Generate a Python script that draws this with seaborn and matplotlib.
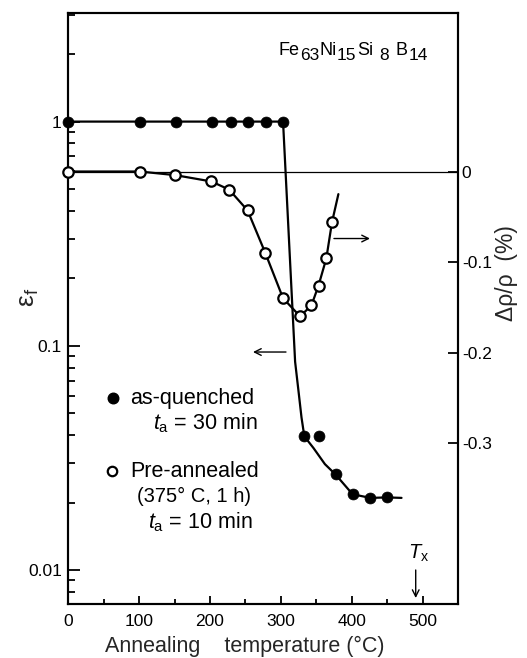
import numpy as np
import matplotlib
matplotlib.use("Agg")
import matplotlib.pyplot as plt
import seaborn as sns
from matplotlib.ticker import FixedLocator, FixedFormatter, LogLocator, NullFormatter, MultipleLocator

# ---------------- data ----------------
# as-quenched, fracture strain (left, log axis)
T_quenched = [0, 101, 152, 203, 229, 254, 279, 303, 332, 354, 377, 401, 426, 450]
eps_quenched = [1, 1, 1, 1, 1, 1, 1, 1, 0.0395, 0.0395, 0.0267, 0.0218, 0.0210, 0.0211]
# hand-drawn guide curve through the as-quenched data
T_quenched_curve = [0, 303, 320, 325, 329, 333, 346, 362, 377, 401, 426, 450, 470]
eps_quenched_curve = [1, 1, 0.085, 0.062, 0.048, 0.0395, 0.0350, 0.0297, 0.0267, 0.0218, 0.0210, 0.0211, 0.0210]

# pre-annealed, resistivity change (right axis, %)
T_pre = [0, 101, 151, 202, 227, 253, 278, 303, 327, 343, 353, 364, 372]
drho_pre = [0, 0, -0.004, -0.011, -0.020, -0.043, -0.090, -0.140, -0.160, -0.148, -0.126, -0.096, -0.056]
T_pre_curve = [0, 101, 151, 202, 227, 253, 278, 303, 327, 343, 353, 364, 372, 381]
drho_pre_curve = [0, 0, -0.004, -0.011, -0.020, -0.043, -0.090, -0.140, -0.160, -0.148, -0.126, -0.096, -0.056, -0.025]

T_x = 490  # crystallisation temperature marker

x_ticks = [0, 100, 200, 300, 400, 500]
x_tick_labels = ["0", "100", "200", "300", "400", "500"]
left_ticks = [0.01, 0.1, 1]
left_tick_labels = ["0.01", "0.1", "1"]
right_ticks = [0, -0.1, -0.2, -0.3]
right_tick_labels = ["0", "-0.1", "-0.2", "-0.3"]

title_parts = ["Fe", "63", "Ni", "15", "Si", "8", "B", "14"]
title_is_sub = [False, True, False, True, False, True, False, True]

# ---------------- style ----------------
sns.set_theme(style="ticks")
plt.rcParams["font.family"] = ["Liberation Sans", "DejaVu Sans"]
plt.rcParams["mathtext.fontset"] = "custom"
plt.rcParams["mathtext.rm"] = "Liberation Sans"
plt.rcParams["mathtext.it"] = "Liberation Sans:italic"
plt.rcParams["mathtext.bf"] = "Liberation Sans:bold"
plt.rcParams["text.color"] = "black"
plt.rcParams["axes.edgecolor"] = "black"
plt.rcParams["xtick.color"] = "black"
plt.rcParams["ytick.color"] = "black"

fig = plt.figure(figsize=(5.27, 6.58), dpi=100)
fig.patch.set_facecolor("white")
ax = fig.add_axes([0.1292, 0.0828, 0.7404, 0.897])
ax.set_yscale("log")
ax.set_xlim(0, 550)
ax.set_ylim(0.0071, 3.04)
ax2 = ax.twinx()
ax2.set_ylim(-0.4773, 0.1748)

LW = 1.6
# as-quenched
sns.lineplot(x=T_quenched_curve, y=eps_quenched_curve, ax=ax, color="black",
             linewidth=LW, sort=False, estimator=None)
sns.scatterplot(x=T_quenched, y=eps_quenched, ax=ax, color="black", s=62,
                edgecolor="black", linewidth=0.5, zorder=4, clip_on=False)

# pre-annealed
ax2.axhline(0, color="black", linewidth=0.9, zorder=1)
sns.lineplot(x=T_pre_curve, y=drho_pre_curve, ax=ax2, color="black",
             linewidth=LW, sort=False, estimator=None)
sns.scatterplot(x=T_pre, y=drho_pre, ax=ax2, color="white", s=56,
                edgecolor="black", linewidth=1.6, zorder=4, clip_on=False)

# ---------------- axes & ticks ----------------
for a in (ax, ax2):
    for sp in a.spines.values():
        sp.set_linewidth(1.5)
        sp.set_color("black")

ax.xaxis.set_major_locator(FixedLocator(x_ticks))
ax.xaxis.set_major_formatter(FixedFormatter(x_tick_labels))
ax.xaxis.set_minor_locator(MultipleLocator(50))
ax.yaxis.set_major_locator(FixedLocator(left_ticks))
ax.yaxis.set_major_formatter(FixedFormatter(left_tick_labels))
ax.yaxis.set_minor_locator(LogLocator(base=10, subs=np.arange(2, 10), numticks=30))
ax.yaxis.set_minor_formatter(NullFormatter())
ax.tick_params(which="both", direction="in", top=False, right=False, width=1.3)
ax.tick_params(axis="y", which="major", length=8.5, pad=4.5, labelsize=12.5)
ax.tick_params(axis="y", which="minor", length=5)
ax.tick_params(axis="x", which="major", length=6, pad=7.5, labelsize=12.5)
ax.tick_params(axis="x", which="minor", length=3.6)

ax2.yaxis.set_major_locator(FixedLocator(right_ticks))
ax2.yaxis.set_major_formatter(FixedFormatter(right_tick_labels))
ax2.yaxis.set_minor_locator(FixedLocator([]))
ax2.tick_params(axis="y", which="major", direction="in", length=7, width=1.3,
                pad=2.5, labelsize=12.5, left=False, right=True)

# axis labels
ax.set_xlabel("Annealing    temperature (°C)", fontsize=15.5)
ax.xaxis.set_label_coords(0.4533, -0.0735)
ax.xaxis.label.set_va("center")
ax.set_ylabel("ε$_\\mathrm{f}$", fontsize=19)
ax.yaxis.set_label_coords(-0.1002, 0.5193)
ax.yaxis.label.set_va("center")
ax2.set_ylabel("Δρ/ρ  (%)", fontsize=16.5, rotation=90)
ax2.yaxis.set_label_coords(1.1248, 0.560)
ax2.yaxis.label.set_va("center")
ax2.yaxis.label.set_ha("center")

# ---------------- title (composition) ----------------
gaps = [0, 0, 0, 1, 4, 5, 1]
prev = ax.text(0.5405, 0.9293, title_parts[0], transform=ax.transAxes,
               fontsize=13, ha="left", va="baseline")
for part, sub, gap in zip(title_parts[1:], title_is_sub[1:], gaps):
    prev = ax.annotate(part, xy=(1, 0.9293), xycoords=(prev, "axes fraction"),
                       xytext=(gap, -3.5 if sub else 0), textcoords="offset points",
                       fontsize=12.5 if sub else 13, ha="left", va="baseline")

# ---------------- arrows ----------------
arrow_kw = dict(arrowstyle="->", lw=1.0, color="black", shrinkA=0, shrinkB=0,
                mutation_scale=12)
ax.annotate("", xy=(0.7737, 0.6184), xytext=(0.6814, 0.6184),
            xycoords="axes fraction", textcoords="axes fraction", arrowprops=arrow_kw)
ax.annotate("", xy=(0.4739, 0.4261), xytext=(0.5584, 0.4261),
            xycoords="axes fraction", textcoords="axes fraction", arrowprops=arrow_kw)
ax.annotate("", xy=(T_x, 0.0093), xytext=(T_x, 0.0568),
            xycoords=("data", "axes fraction"), textcoords=("data", "axes fraction"),
            arrowprops=arrow_kw)
ax.text(T_x + 4, 0.0856, r"$T_\mathrm{x}$", transform=ax.get_xaxis_transform(),
        fontsize=14.5, ha="center", va="center")

# ---------------- legend (hand-placed) ----------------
ax.plot([0.1143], [0.3477], marker="o", color="black", markersize=7.6,
        transform=ax.transAxes, linestyle="none")
ax.text(0.1586, 0.3482, "as-quenched", transform=ax.transAxes, fontsize=15.5,
        ha="left", va="center")
ax.text(0.2176, 0.3058, r"$t_\mathrm{a}$ = 30 min", transform=ax.transAxes,
        fontsize=15.5, ha="left", va="center")
ax.plot([0.1117], [0.2250], marker="o", color="black", markerfacecolor="white",
        markeredgewidth=1.6, markersize=6.8, transform=ax.transAxes, linestyle="none")
ax.text(0.1586, 0.2245, "Pre-annealed", transform=ax.transAxes, fontsize=15.5,
        ha="left", va="center")
ax.text(0.1758, 0.1810, "(375° C, 1 h)", transform=ax.transAxes, fontsize=14.5,
        ha="left", va="center")
ax.text(0.2048, 0.1386, r"$t_\mathrm{a}$ = 10 min", transform=ax.transAxes,
        fontsize=15.5, ha="left", va="center")

fig.savefig("out.png", dpi=100, facecolor="white")
